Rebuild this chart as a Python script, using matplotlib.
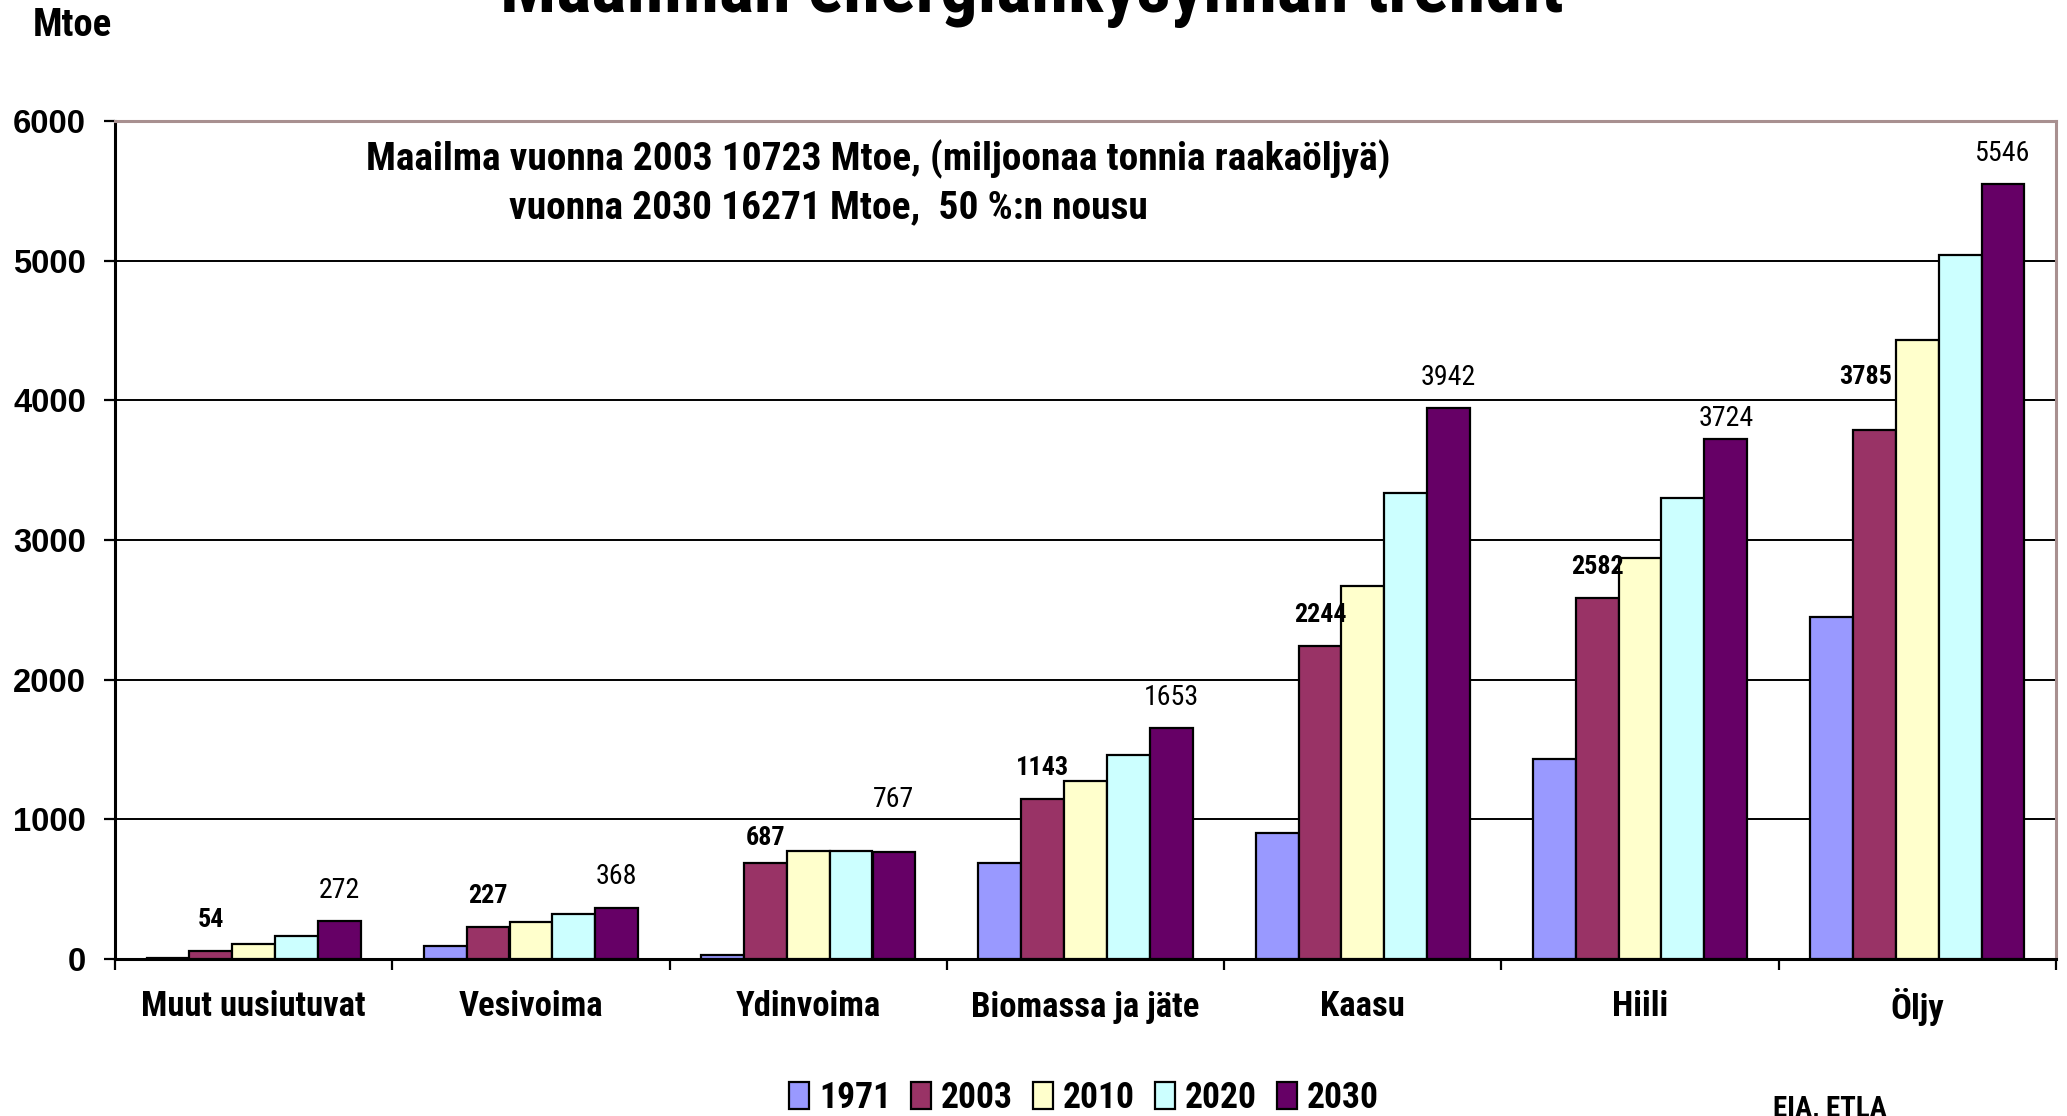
import matplotlib
matplotlib.use('Agg')
import matplotlib.pyplot as plt
from matplotlib import font_manager as fm
from matplotlib.patches import Patch
import matplotlib.transforms as mtrans
import numpy as np
import os

# ---------------- data ----------------
categories = ["Muut uusiutuvat", "Vesivoima", "Ydinvoima", "Biomassa ja jäte",
              "Kaasu", "Hiili", "Öljy"]
years = ["1971", "2003", "2010", "2020", "2030"]
v1971 = [4, 94, 26, 687, 905, 1434, 2452]
v2003 = [54, 227, 687, 1143, 2244, 2582, 3785]
v2010 = [110, 267, 770, 1274, 2668, 2868, 4434]
v2020 = [166, 325, 770, 1462, 3340, 3302, 5038]
v2030 = [272, 368, 767, 1653, 3942, 3724, 5546]
series = [v1971, v2003, v2010, v2020, v2030]
colors = ["#9999FF", "#993366", "#FFFFCC", "#CCFFFF", "#660066"]
yticks = [0, 1000, 2000, 3000, 4000, 5000, 6000]

title = "Maailman energiankysynnän trendit"
note1 = "Maailma vuonna 2003 10723 Mtoe, (miljoonaa tonnia raakaöljyä)"
note2 = "vuonna 2030 16271 Mtoe,  50 %:n nousu"
source = "EIA, ETLA"

# ---------------- fonts ----------------
files = [f.fname for f in fm.fontManager.ttflist]

def find(cands):
    for c in cands:
        for f in files:
            if os.path.basename(f).lower() == c.lower():
                return f
    return None

bold_file = find(["LiberationSansNarrow-Bold.ttf", "RobotoCondensed-Bold.ttf",
                  "DejaVuSansCondensed-Bold.ttf", "OpenSans_Condensed-Bold.ttf",
                  "OpenSansCondensed-Bold.ttf"])
reg_file = find(["LiberationSansNarrow-Regular.ttf", "RobotoCondensed-Regular.ttf",
                 "DejaVuSansCondensed.ttf", "OpenSans_Condensed-Regular.ttf"])

def NB(size=20):
    if bold_file:
        return fm.FontProperties(fname=bold_file, size=size)
    return fm.FontProperties(family=["Liberation Sans", "DejaVu Sans"], weight="bold", size=size)

def NR(size=20):
    if reg_file:
        return fm.FontProperties(fname=reg_file, size=size)
    return fm.FontProperties(family=["Liberation Sans", "DejaVu Sans"], size=size)

def WB(size=20):
    return fm.FontProperties(family=["Liberation Sans", "DejaVu Sans"], weight="bold", size=size)

W, H = 2067, 1116
PX = 100 / 72.0  # pixels per point
fig = plt.figure(figsize=(W / 100, H / 100), dpi=100)
fig.patch.set_facecolor("white")

def fx(x):
    return x / W

def fy(y):
    return 1 - y / H

renderer = fig.canvas.get_renderer()

def fit_size(text, fpfunc, target_w):
    t = fig.text(0, 0, text, fontproperties=fpfunc(20))
    w = t.get_window_extent(renderer).width
    t.remove()
    return 20 * target_w / w

# ---------------- axes ----------------
ax_l, ax_r, ax_t, ax_b = 115, 2056, 121, 959
ax = fig.add_axes([fx(ax_l), fy(ax_b), (ax_r - ax_l) / W, (ax_b - ax_t) / H])
n = len(categories)
x = np.arange(n)
bw = 1 / 6.47
for i, (vals, c) in enumerate(zip(series, colors)):
    ax.bar(x + (i - 2) * bw, vals, width=bw, color=c, edgecolor="black",
           linewidth=1.6, zorder=3, label=years[i])

ax.set_xlim(-0.5, n - 0.5)
ax.set_ylim(0, 6000)
ax.set_yticks(yticks)
ax.yaxis.grid(True, color="black", linewidth=1.4, zorder=0)
ax.set_axisbelow(True)

for s in ["top", "right"]:
    ax.spines[s].set_color("#a89090")
    ax.spines[s].set_linewidth(2.2)
ax.spines["left"].set_linewidth(2.2)
ax.spines["bottom"].set_linewidth(2.2)

ax.set_xticks(np.arange(-0.5, n, 1.0))
ax.set_xticklabels([])
ax.tick_params(axis="x", which="major", length=11 / PX, width=1.6, direction="out")

# y tick labels (wide bold)
yfs = fit_size("6000", WB, 73)
ax.set_yticklabels([str(v) for v in yticks], fontproperties=WB(yfs))
ax.tick_params(axis="y", length=11 / PX, width=1.6, direction="out",
               pad=(115 - 11 - 86) / PX)

# category labels
cfs = fit_size(categories[0], NB, 225)
ctr = mtrans.blended_transform_factory(ax.transData, fig.transFigure)
for xi, cat in zip(x, categories):
    ax.text(xi, fy(1007), cat, transform=ctr, ha="center", va="center",
            fontproperties=NB(cfs))

# data labels: 2003 bold, 2030 normal
bfs = fit_size("2244", NB, 53)
nfs = fit_size("3942", NR, 55)
base_dy = 31
# manual placement nudges of individual labels (pixels: dx, dy)
nudge_2003 = {2: (0, -6), 6: (-9, 22)}
nudge_2030 = {2: (0, 21), 5: (0, -11)}
for xi, v in zip(x, v2003):
    dx, dy = nudge_2003.get(xi, (0, 0))
    tr = mtrans.offset_copy(ax.transData, fig=fig, x=dx, y=base_dy + dy, units="dots")
    ax.text(xi - 1 * bw, v, str(v), transform=tr, ha="center", va="center",
            fontproperties=NB(bfs), zorder=5)
for xi, v in zip(x, v2030):
    dx, dy = nudge_2030.get(xi, (0, 0))
    tr = mtrans.offset_copy(ax.transData, fig=fig, x=dx, y=base_dy + dy, units="dots")
    ax.text(xi + 2 * bw, v, str(v), transform=tr, ha="center", va="center",
            fontproperties=NR(nfs), zorder=5)

# ---------------- figure texts ----------------
fig.text(fx(1032), fy(12), title, ha="center", va="baseline",
         fontproperties=NB(fit_size(title, NB, 1061)))

n1 = fit_size(note1, NB, 1025)
fig.text(fx(878), fy(159), note1, ha="center", va="center", fontproperties=NB(n1))
fig.text(fx(828), fy(208), note2, ha="center", va="center", fontproperties=NB(n1))

fig.text(fx(72), fy(25), "Mtoe", ha="center", va="center",
         fontproperties=NB(fit_size("Mtoe", NB, 79)))

fig.text(fx(1830), fy(1108), source, ha="center", va="center",
         fontproperties=NB(fit_size(source, NB, 114)))

# legend
lfs = fit_size("1971", NB, 72)
em = lfs * PX
handles = [Patch(facecolor=c, edgecolor="black", linewidth=1.6) for c in colors]
leg = fig.legend(handles, years, loc="center", bbox_to_anchor=(fx(1084), fy(1098)),
                 ncol=5, frameon=False, handlelength=20 / em, handleheight=28 / em,
                 handletextpad=10 / em, columnspacing=20 / em, borderaxespad=0,
                 borderpad=0, prop=NB(lfs))

fig.savefig("out.png", dpi=100, facecolor="white")
